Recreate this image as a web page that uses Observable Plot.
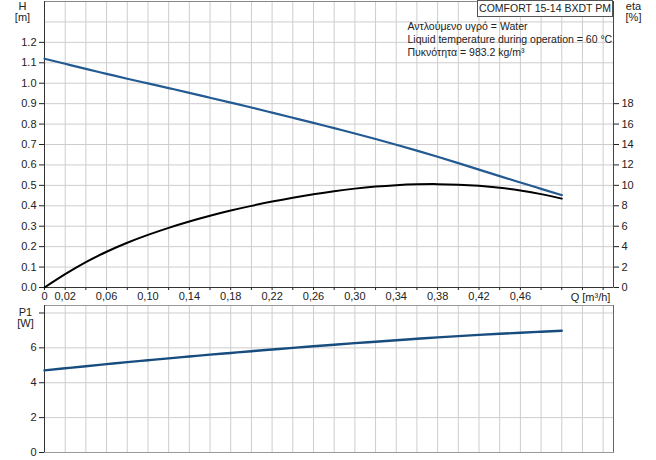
<!DOCTYPE html>
<html><head><meta charset="utf-8">
<script src="https://cdn.jsdelivr.net/npm/d3@7"></script>
<script src="https://cdn.jsdelivr.net/npm/@observablehq/plot@0.6"></script>
<style>
html,body{margin:0;padding:0;background:#fff;}
#wrap{position:relative;width:656px;height:460px;font-family:Arial,"Liberation Sans",sans-serif;}
#wrap svg{display:block;}
#title{position:absolute;left:477px;top:0;width:134px;height:15px;border:1px solid #555;background:#fff;font-size:10.5px;line-height:15px;text-align:center;color:#222;white-space:nowrap;overflow:hidden;}
</style></head><body><div id="wrap"></div>
<script>
// Flow Q [m³/h]
const Q   = [0,0.02,0.04,0.06,0.08,0.10,0.12,0.14,0.16,0.18,0.20,0.22,0.24,0.26,0.28,0.30,0.32,0.34,0.36,0.38,0.40,0.42,0.44,0.46,0.48,0.50];
// Head H [m]
const H   = [1.12,1.095,1.07,1.046,1.022,0.999,0.976,0.953,0.929,0.905,0.881,0.856,0.831,0.806,0.780,0.754,0.727,0.699,0.670,0.640,0.609,0.577,0.545,0.514,0.483,0.452];
// Efficiency eta [%]
const ETA = [0,1.3,2.48,3.5,4.38,5.15,5.84,6.46,7.02,7.53,7.99,8.41,8.79,9.13,9.43,9.68,9.88,10.02,10.10,10.12,10.07,9.95,9.76,9.49,9.14,8.70];
// Power P1 [W]
const P1  = [4.71,4.83,4.95,5.065,5.18,5.29,5.40,5.505,5.61,5.71,5.81,5.905,6.0,6.09,6.18,6.27,6.355,6.44,6.52,6.60,6.675,6.745,6.81,6.87,6.925,6.98];

const Q_GRID   = [0,0.02,0.04,0.06,0.08,0.10,0.12,0.14,0.16,0.18,0.20,0.22,0.24,0.26,0.28,0.30,0.32,0.34,0.36,0.38,0.40,0.42,0.44,0.46,0.48,0.50,0.52,0.54];
const Q_LABELS = [0,0.02,0.06,0.10,0.14,0.18,0.22,0.26,0.30,0.34,0.38,0.42,0.46];
const H_TICKS  = [0,0.1,0.2,0.3,0.4,0.5,0.6,0.7,0.8,0.9,1.0,1.1,1.2];
const H_GRID   = [0,0.1,0.2,0.3,0.4,0.5,0.6,0.7,0.8,0.9,1.0,1.1,1.2,1.3,1.4];
const ETA_TICKS = [0,2,4,6,8,10,12,14,16,18];
const P_TICKS  = [0,2,4,6];
const P_GRID   = [0,2,4,6,8];
const TITLE = "COMFORT 15-14 BXDT PM";
const NOTES = ["Αντλούμενο υγρό = Water","Liquid temperature during operation = 60 °C","Πυκνότητα = 983.2 kg/m³"];
const ETA_PER_H = 20; // right axis: eta [%] = 20 × H scale

const rows = Q.map((q,i)=>({q, h:H[i], eta:ETA[i], p:P1[i]}));
const fmtQ = d => d===0 ? "0" : d.toFixed(2).replace(".", ",");
const font = 'Arial, "Liberation Sans", sans-serif';
const GRID = "#cdcdcd";

const noteMarks = NOTES.map((s,i)=>Plot.text([s],{frameAnchor:"top-left", dx:363, dy:25+13*i, textAnchor:"start", lineAnchor:"middle", fontSize:10.5}));

const topPlot = Plot.plot({
  width:656, height:303, marginLeft:44, marginRight:43, marginTop:1, marginBottom:16,
  style:{fontFamily:font, fontSize:"11px", color:"#222", background:"transparent"},
  x:{domain:[0,0.55]}, y:{domain:[0,1.4]},
  marks:[
    Plot.gridX(Q_GRID,{stroke:GRID, strokeOpacity:1}),
    Plot.gridY(H_GRID,{stroke:GRID, strokeOpacity:1}),
    Plot.frame({stroke:"#888"}),
    Plot.axisX(Q_GRID,{tickSize:3, tickFormat:()=>"", label:null}),
    Plot.axisX(Q_LABELS,{tickSize:0, tickPadding:5, tickFormat:fmtQ, label:null}),
    Plot.axisY(H_TICKS,{tickSize:5, tickPadding:3, tickFormat:d=>d.toFixed(1), label:null}),
    Plot.axisY(ETA_TICKS.map(e=>e/ETA_PER_H),{anchor:"right", tickSize:5, tickPadding:3, tickFormat:d=>String(Math.round(d*ETA_PER_H)), label:null}),
    Plot.ruleX([0],{stroke:"#333"}),
    Plot.ruleX([0.55],{stroke:"#444"}),
    Plot.ruleY([0],{stroke:"#333"}),
    Plot.line(rows,{x:"q", y:"h", stroke:"#245a92", strokeWidth:2.2, curve:"natural"}),
    Plot.line(rows,{x:"q", y:d=>d.eta/ETA_PER_H, stroke:"#000", strokeWidth:2, curve:"natural"}),
    Plot.text(["H"],{frameAnchor:"top-left", dx:-22, dy:5, textAnchor:"middle", lineAnchor:"middle"}),
    Plot.text(["[m]"],{frameAnchor:"top-left", dx:-22, dy:16, textAnchor:"middle", lineAnchor:"middle"}),
    Plot.text(["eta"],{frameAnchor:"top-right", dx:20, dy:5, textAnchor:"middle", lineAnchor:"middle"}),
    Plot.text(["[%]"],{frameAnchor:"top-right", dx:20, dy:16, textAnchor:"middle", lineAnchor:"middle"}),
    Plot.text(["Q [m³/h]"],{frameAnchor:"bottom-right", dx:-23, dy:10, textAnchor:"middle", lineAnchor:"middle"}),
    ...noteMarks
  ]
});

const bottomPlot = Plot.plot({
  width:656, height:157, marginLeft:44, marginRight:43, marginTop:2, marginBottom:8,
  style:{fontFamily:font, fontSize:"11px", color:"#222", background:"transparent"},
  x:{domain:[0,0.55], axis:null}, y:{domain:[0,8.43], axis:null},
  marks:[
    Plot.gridX(Q_GRID,{stroke:GRID, strokeOpacity:1}),
    Plot.gridY(P_GRID,{stroke:GRID, strokeOpacity:1}),
    Plot.frame({stroke:"#999"}),
    Plot.axisY(P_GRID,{tickSize:5, tickPadding:3, tickFormat:d=>P_TICKS.includes(d)?String(d):"", label:null}),
    Plot.ruleX([0],{stroke:"#333"}),
    Plot.ruleX([0.55],{stroke:"#666"}),
    Plot.line(rows,{x:"q", y:"p", stroke:"#174c7e", strokeWidth:2.4, curve:"natural"}),
    Plot.text(["P1"],{frameAnchor:"top-left", dx:-19, dy:7, textAnchor:"middle", lineAnchor:"middle"}),
    Plot.text(["[W]"],{frameAnchor:"top-left", dx:-19, dy:18, textAnchor:"middle", lineAnchor:"middle"})
  ]
});

const wrap = document.getElementById("wrap");
wrap.appendChild(topPlot);
wrap.appendChild(bottomPlot);
const t = document.createElement("div");
t.id = "title";
t.textContent = TITLE;
wrap.appendChild(t);
</script>
</body></html>
